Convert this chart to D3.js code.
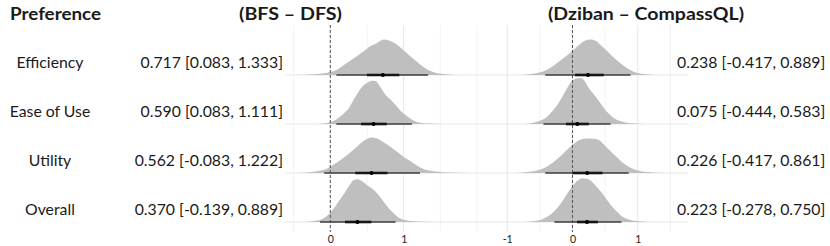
<!DOCTYPE html>
<html>
<head>
<meta charset="utf-8">
<script src="https://cdn.jsdelivr.net/npm/d3@7"></script>
<style>
  html, body { margin: 0; padding: 0; background: #fff; }
  svg { display: block; }
  text { font-family: Lato, "Open Sans", sans-serif; fill: #1a1a1a; }
</style>
</head>
<body>
<svg id="chart" width="830" height="246"></svg>
<script>
// ---------------- data ----------------
const categories = ["Efficiency", "Ease of Use", "Utility", "Overall"];
const headerLabel = "Preference";
const leftTitle = "(BFS – DFS)";
const rightTitle = "(Dziban – CompassQL)";

// BFS – DFS
const bfsMean = [0.717, 0.590, 0.562, 0.370];
const bfsLow = [0.083, 0.083, -0.083, -0.139];
const bfsHigh = [1.333, 1.111, 1.222, 0.889];
const bfsThickLow = [0.50, 0.42, 0.34, 0.20];
const bfsThickHigh = [0.94, 0.77, 0.78, 0.56];

// Dziban – CompassQL
const dzMean = [0.238, 0.075, 0.226, 0.223];
const dzLow = [-0.417, -0.444, -0.417, -0.278];
const dzHigh = [0.889, 0.583, 0.861, 0.750];
const dzThickLow = [0.04, -0.10, 0.00, 0.07];
const dzThickHigh = [0.48, 0.25, 0.46, 0.39];

// posterior densities (x in effect units, height relative, 100 = tallest)
const bfsDensX = [
  [-0.50, -0.18, 0.00, 0.10, 0.19, 0.28, 0.37, 0.46, 0.55, 0.62, 0.69, 0.73, 0.80, 0.87, 0.96, 1.05, 1.14, 1.23, 1.32, 1.41, 1.55, 1.78],
  [-0.18, 0.00, 0.10, 0.19, 0.26, 0.32, 0.39, 0.44, 0.50, 0.57, 0.62, 0.69, 0.75, 0.82, 0.89, 0.96, 1.03, 1.10, 1.19, 1.32, 1.55],
  [-0.45, -0.18, -0.04, 0.05, 0.14, 0.23, 0.32, 0.41, 0.48, 0.56, 0.64, 0.73, 0.82, 0.91, 1.00, 1.10, 1.19, 1.28, 1.41, 1.64, 1.91],
  [-0.36, -0.18, -0.09, -0.02, 0.05, 0.12, 0.19, 0.26, 0.32, 0.37, 0.44, 0.50, 0.57, 0.64, 0.71, 0.78, 0.85, 0.91, 1.00, 1.19, 1.41]
];
const bfsDensH = [
  [0, 2, 6.5, 12, 22, 32, 42, 52, 63, 68, 75, 77, 75, 70, 59, 46, 34, 22, 12, 6, 2, 0],
  [0, 4, 12, 24, 36, 53, 71, 82, 89, 94, 93, 78, 64, 53, 41, 28, 19, 11, 4, 1, 0],
  [0, 4, 10, 19, 28, 39, 51, 64, 72, 77, 75, 66, 57, 46, 35, 25, 15, 8, 4, 1, 0],
  [0, 3, 8, 17, 30, 46, 62, 79, 91, 93, 88, 80, 73, 62, 48, 33, 21, 12, 5, 1, 0]
];
const dzDensX = [
  [-0.84, -0.63, -0.48, -0.38, -0.28, -0.18, -0.08, 0.03, 0.10, 0.18, 0.27, 0.36, 0.43, 0.53, 0.63, 0.74, 0.84, 0.94, 1.09, 1.35],
  [-0.74, -0.58, -0.48, -0.38, -0.31, -0.23, -0.15, -0.08, -0.02, 0.05, 0.13, 0.19, 0.25, 0.33, 0.41, 0.48, 0.56, 0.63, 0.74, 0.89, 1.14],
  [-0.89, -0.63, -0.48, -0.38, -0.28, -0.18, -0.08, 0.03, 0.13, 0.23, 0.33, 0.41, 0.48, 0.58, 0.69, 0.79, 0.89, 0.99, 1.14, 1.45],
  [-0.74, -0.53, -0.43, -0.33, -0.23, -0.15, -0.08, 0.00, 0.08, 0.15, 0.23, 0.31, 0.38, 0.46, 0.53, 0.61, 0.69, 0.76, 0.84, 0.99, 1.24]
];
const dzDensH = [
  [0, 2, 6.5, 12, 21, 32, 43, 56, 65, 74, 77, 74, 65, 52, 38, 25, 14.5, 7, 2, 0],
  [0, 3, 8, 17, 27.5, 42, 60, 78, 91, 98.5, 100, 93, 78, 64, 49, 35, 22, 13, 6, 1.5, 0],
  [0, 3, 8, 14.5, 25, 37, 51, 64.5, 73, 75, 74.6, 71, 62, 48, 33, 20, 11.6, 6, 2, 0],
  [0, 3, 8, 17, 31, 46, 62, 78, 90, 95, 93.5, 86, 75, 62, 48, 33, 21, 12, 6.5, 2, 0]
];

const leftTickValues = [0, 1];
const rightTickValues = [-1, 0, 1];
const leftGridValues = [-0.5, 0, 0.5, 1, 1.5, 2];
const rightGridValues = [-1, -0.5, 0, 0.5, 1, 1.5];
const majorValues = [-1, 0, 1];

// ---------------- layout ----------------
const svg = d3.select("#chart");
const panelTop = 25, panelBottom = 232;
const bodySize = 15.8;

const yRow = d3.scalePoint().domain(categories).range([75, 222]);
const hScale = d3.scaleLinear().domain([0, 100]).range([0, 0.94 * yRow.step()]);

const xLeft = d3.scaleLinear().domain([-0.617, 2.04]).range([285, 480]);
const xRight = d3.scaleLinear().domain([-1.417, 1.77]).range([480, 688]);

const loc = d3.formatLocale({decimal: ".", thousands: ",", grouping: [3], currency: ["", ""], minus: "-"});
const f3 = loc.format(".3f");
const fInt = loc.format("d");
const estLabel = (m, l, h) => `${f3(m)} [${f3(l)}, ${f3(h)}]`;

function drawPanel(x, gridVals, tickVals, densX, densH, mean, low, high, tLow, tHigh) {
  const g = svg.append("g");
  const [r0, r1] = x.range();
  // vertical grid
  g.selectAll("line.vg").data(gridVals).join("line")
    .attr("x1", d => x(d)).attr("x2", d => x(d))
    .attr("y1", panelTop).attr("y2", panelBottom)
    .attr("stroke", d => majorValues.includes(d) ? "#e6e6e6" : "#efefef")
    .attr("stroke-width", d => majorValues.includes(d) ? 1 : 0.8);
  // horizontal grid at rows
  g.selectAll("line.hg").data(categories).join("line")
    .attr("x1", r0).attr("x2", r1)
    .attr("y1", d => yRow(d)).attr("y2", d => yRow(d))
    .attr("stroke", "#e8e8e8").attr("stroke-width", 1);

  // densities
  categories.forEach((c, i) => {
    const pts = densX[i].map((v, j) => [v, densH[i][j]]);
    const area = d3.area()
      .x(d => x(d[0]))
      .y0(yRow(c))
      .y1(d => yRow(c) - hScale(d[1]))
      .curve(d3.curveMonotoneX);
    g.append("path").datum(pts).attr("d", area).attr("fill", "#bfbfbf");
  });

  // zero reference line
  g.append("line")
    .attr("x1", x(0)).attr("x2", x(0))
    .attr("y1", panelTop).attr("y2", panelBottom)
    .attr("stroke", "#555").attr("stroke-width", 1)
    .attr("stroke-dasharray", "3,2");

  // intervals
  categories.forEach((c, i) => {
    const y = yRow(c);
    g.append("line").attr("x1", x(low[i])).attr("x2", x(high[i]))
      .attr("y1", y).attr("y2", y).attr("stroke", "#3c3c3c").attr("stroke-width", 1.3);
    g.append("line").attr("x1", x(tLow[i])).attr("x2", x(tHigh[i]))
      .attr("y1", y).attr("y2", y).attr("stroke", "#161616").attr("stroke-width", 2.6);
    g.append("circle").attr("cx", x(mean[i])).attr("cy", y).attr("r", 2).attr("fill", "#000");
  });

  // axis
  const ax = d3.axisBottom(x).tickValues(tickVals).tickFormat(fInt).tickSize(0).tickPadding(3.5);
  const axg = svg.append("g").attr("transform", `translate(0,${panelBottom})`).call(ax);
  axg.select(".domain").remove();
  axg.selectAll("text").attr("font-family", "Lato, sans-serif").attr("font-size", 10.5).attr("fill", "#222");
}

drawPanel(xLeft, leftGridValues, leftTickValues, bfsDensX, bfsDensH, bfsMean, bfsLow, bfsHigh, bfsThickLow, bfsThickHigh);
drawPanel(xRight, rightGridValues, rightTickValues, dzDensX, dzDensH, dzMean, dzLow, dzHigh, dzThickLow, dzThickHigh);

// row labels
svg.append("g").selectAll("text").data(categories).join("text")
  .attr("x", 50).attr("y", d => yRow(d) - 7)
  .attr("text-anchor", "middle").attr("font-size", bodySize)
  .text(d => d);

// estimate labels
svg.append("g").selectAll("text").data(categories).join("text")
  .attr("x", 283).attr("y", d => yRow(d) - 7)
  .attr("text-anchor", "end").attr("font-size", bodySize)
  .text((d, i) => estLabel(bfsMean[i], bfsLow[i], bfsHigh[i]));
svg.append("g").selectAll("text").data(categories).join("text")
  .attr("x", 677).attr("y", d => yRow(d) - 7)
  .attr("text-anchor", "start").attr("font-size", bodySize)
  .text((d, i) => estLabel(dzMean[i], dzLow[i], dzHigh[i]));

// titles
const titles = [
  {t: headerLabel, x: 10, w: 91},
  {t: leftTitle, x: 239, w: 103},
  {t: rightTitle, x: 548, w: 196}
];
svg.append("g").selectAll("text").data(titles).join("text")
  .attr("x", d => d.x).attr("y", 19.5)
  .attr("font-size", 16.5).attr("font-weight", 700)
  .attr("textLength", d => d.w).attr("lengthAdjust", "spacingAndGlyphs")
  .text(d => d.t);
</script>
</body>
</html>
